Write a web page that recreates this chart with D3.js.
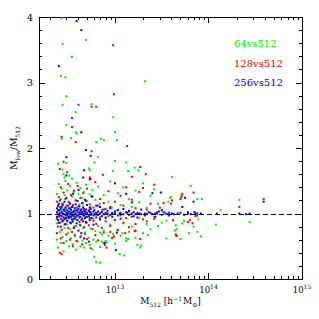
<!DOCTYPE html>
<html>
<head>
<meta charset="utf-8">
<script src="https://cdn.jsdelivr.net/npm/d3@7"></script>
<style>
  body { margin: 0; background: #fff; overflow: hidden; }
  svg { display: block; }
  .axis path, .axis line { stroke: #000; shape-rendering: crispEdges; }
  .axis text { font-family: "DejaVu Serif", serif; fill: #000; }
  .lab { font-family: "DejaVu Serif", serif; fill: #000; }
</style>
</head>
<body>
<svg id="chart" width="319" height="319"></svg>
<script>
// points are [log10 M512, Mlow/M512]
const pts64 = [
  [12.43,3.98],[12.69,3.65],[12.44,3.59],[12.54,3.39],[12.42,3.10],[12.47,3.08],[13.32,3.02],
  [12.48,2.79],[12.44,2.66],[12.75,2.67],[12.58,2.55],[12.98,2.47],[12.48,2.35],[12.58,2.24],
  [12.59,2.22],[12.43,2.14],[12.53,2.15],[12.80,2.09],[12.85,2.14],[12.88,2.12],[13.00,2.24],
  [13.02,2.12],[12.82,1.86],[12.48,1.77],[12.39,1.76],[12.78,1.78],[13.00,1.80],[13.12,1.78],
  [12.44,1.67],[12.72,1.69],[12.73,1.66],[13.21,1.70],[13.25,1.66],[12.98,1.65],[13.14,1.65],
  [12.45,1.60],[12.51,1.58],[12.46,1.55],[12.54,1.53],[13.61,1.56],[13.81,1.42],[13.71,1.28],
  [13.72,1.27],[13.88,1.22],[13.93,1.22],[13.59,1.24],[13.60,1.25],[13.57,1.18],[14.33,1.21],
  [14.13,1.05],[14.44,0.87],[14.08,0.83],[13.89,0.91],[13.84,0.80],[13.79,0.70],[13.88,0.72],
  [13.92,0.65],[13.70,0.61],[13.74,0.89],[13.72,0.85],[13.50,0.86],[13.65,0.82],[13.66,0.76],
  [13.64,0.74],[12.80,0.26],[12.78,0.34],[12.84,0.25],[13.05,0.38],[13.10,0.36],[13.27,0.48],
  [13.24,0.52],[13.35,0.67],[13.65,0.67],[12.86,0.57],[12.88,0.55],[12.91,0.56],[12.84,0.71],
  [13.12,0.62],[13.14,0.61],[13.28,0.51],[12.98,0.69],[13.08,0.70],
  [12.38,0.85],[12.38,1.30],[12.38,0.60],[12.39,1.12],[12.39,0.48],[12.40,0.95],[12.40,1.45],
  [12.41,0.72],[12.41,1.05],[12.42,1.22],[12.42,0.55],[12.43,0.88],[12.43,1.38],[12.44,0.64],
  [12.44,1.15],[12.45,1.00],[12.45,0.42],[12.46,1.28],[12.46,0.78],[12.47,0.92],[12.47,1.50],
  [12.48,0.58],[12.48,1.08],[12.49,1.35],[12.49,0.83],[12.50,0.70],[12.50,1.18],[12.51,0.96],
  [12.51,0.50],[12.52,1.42],[12.52,0.76],[12.53,1.04],[12.53,0.62],[12.54,0.87],[12.54,1.26],
  [12.55,0.53],[12.55,1.10],[12.56,1.33],[12.56,0.80],[12.57,0.68],[12.57,1.02],[12.58,1.20],
  [12.58,0.45],[12.59,0.90],[12.59,1.47],[12.60,0.57],[12.60,1.06],[12.61,1.30],[12.61,0.74],
  [12.62,0.83],[12.62,1.14],[12.63,0.50],[12.63,1.39],[12.64,1.01],[12.64,0.66],[12.65,1.24],
  [12.65,0.59],[12.66,0.78],[12.66,1.12],[12.67,0.48],[12.67,1.33],[12.68,0.95],[12.68,0.71],
  [12.69,1.44],[12.69,0.55],[12.70,0.86],[12.70,1.19],[12.72,0.63],[12.72,1.05],[12.73,1.29],
  [12.73,0.52],[12.74,0.77],[12.74,1.10],[12.76,0.45],[12.76,1.36],[12.77,0.92],[12.77,0.60],
  [12.79,1.21],[12.79,0.73],[12.80,0.57],[12.80,1.01],[12.82,0.81],[12.82,1.41],[12.84,0.49],
  [12.84,1.15],[12.86,1.06],[12.86,0.68],[12.88,0.74],[12.88,1.28],[12.90,0.58],[12.90,0.95],
  [12.93,1.18],[12.93,0.66],[12.95,0.83],[12.95,1.49],[12.97,0.62],[12.97,1.09],[13.00,0.90],
  [13.00,0.54],[13.03,1.31],[13.03,0.75],[13.06,0.66],[13.06,1.13],[13.09,0.85],[13.09,1.40],
  [13.12,0.58],[13.12,1.02],[13.15,1.22],[13.15,0.72],[13.18,0.80],[13.18,1.10],[13.22,0.63],
  [13.22,1.35],[13.26,0.93],[13.26,1.17],[13.30,0.70],[13.30,1.46],[13.34,0.84],[13.34,1.09],
  [13.38,1.27],[13.38,0.76],[13.42,0.95],[13.42,1.37],[13.46,0.81],[13.46,1.15],[13.50,1.05],
  [13.55,0.89],[13.55,0.62]
];

const pts128 = [
  [12.98,3.57],[12.99,2.82],[12.61,2.66],[12.75,2.63],[12.80,2.63],[12.54,2.46],[12.54,2.32],
  [12.43,2.17],[12.58,2.09],[13.13,2.03],[12.75,1.95],[12.45,1.79],[12.41,1.68],[12.49,1.63],
  [12.73,1.55],[12.74,1.53],[13.27,1.71],[13.33,1.60],[12.87,1.59],[13.18,1.56],[13.84,1.32],
  [13.71,1.25],[13.61,1.20],[13.60,1.15],[14.33,1.10],[14.59,1.22],[13.62,0.90],[13.80,0.90],
  [13.86,0.96],[13.88,0.97],[13.65,0.68],[13.66,0.66],[13.72,1.30],[13.70,1.22],[13.52,1.16],
  [13.78,0.87],[13.83,0.85],[12.41,0.40],[12.43,0.38],[13.27,0.61],[13.21,0.73],[13.22,0.74],
  [12.89,0.52],[12.91,0.48],[12.95,0.72],[12.99,0.65],[13.11,0.70],
  [12.38,0.92],[12.38,1.18],[12.38,0.70],[12.39,1.05],[12.39,0.80],[12.40,1.25],[12.40,0.96],
  [12.41,0.86],[12.41,1.10],[12.42,1.40],[12.42,0.62],[12.43,1.00],[12.43,0.75],[12.44,1.15],
  [12.44,0.90],[12.45,0.55],[12.45,1.32],[12.46,1.06],[12.46,0.83],[12.47,0.94],[12.47,1.22],
  [12.48,0.68],[12.48,1.12],[12.49,1.02],[12.49,0.88],[12.50,1.45],[12.50,0.78],[12.51,0.95],
  [12.51,1.17],[12.52,0.60],[12.52,1.08],[12.53,1.28],[12.53,0.85],[12.54,0.99],[12.54,0.72],
  [12.55,1.13],[12.55,0.50],[12.56,0.92],[12.56,1.35],[12.57,1.04],[12.57,0.66],[12.58,0.81],
  [12.58,1.20],[12.59,1.09],[12.59,0.58],[12.60,0.96],[12.60,1.42],[12.61,0.74],[12.61,1.11],
  [12.62,1.01],[12.62,0.87],[12.63,1.24],[12.63,0.64],[12.64,0.90],[12.64,1.06],[12.65,0.53],
  [12.65,1.16],[12.66,1.31],[12.66,0.97],[12.67,0.79],[12.67,1.07],[12.68,1.00],[12.68,0.69],
  [12.69,1.19],[12.69,0.86],[12.70,0.61],[12.70,1.38],[12.72,1.05],[12.72,0.82],[12.73,0.93],
  [12.73,1.14],[12.74,0.47],[12.74,1.02],[12.76,1.26],[12.76,0.76],[12.77,0.89],[12.77,1.09],
  [12.79,1.48],[12.79,0.67],[12.80,0.98],[12.80,0.84],[12.82,1.12],[12.82,0.59],[12.84,0.94],
  [12.84,1.22],[12.86,1.03],[12.86,0.78],[12.88,0.71],[12.88,1.16],[12.90,1.07],[12.90,0.88],
  [12.93,1.34],[12.93,0.96],[12.95,0.81],[12.95,1.10],[12.97,1.00],[12.97,0.63],[13.00,1.18],
  [13.00,0.90],[13.03,0.75],[13.03,1.05],[13.06,1.27],[13.06,0.97],[13.09,0.86],[13.09,1.12],
  [13.12,1.40],[13.12,0.93],[13.15,1.03],[13.15,0.79],[13.18,0.95],[13.18,1.21],[13.22,1.08],
  [13.22,0.84],[13.26,1.33],[13.26,0.99],[13.30,1.39],[13.30,0.91],[13.34,1.06],[13.34,0.88],
  [13.38,1.15],[13.42,0.92],[13.42,1.44],[13.45,1.02],[13.48,1.09]
];

const pts256 = [
  [12.59,3.94],[12.64,3.80],[12.40,3.25],[12.64,2.24],[12.69,1.97],[12.48,1.86],[12.74,1.88],
  [12.48,1.58],[12.67,1.66],[12.66,1.55],[12.73,1.52],[13.49,1.32],[13.84,1.18],[13.72,1.10],
  [13.75,1.24],[14.59,1.18],[14.09,1.00],[14.33,1.00],[14.40,0.99],[14.44,1.00],[13.85,1.02],
  [13.86,1.00],[13.92,1.00],[12.89,0.55],[13.02,0.71],[13.01,0.44],
  [12.38,1.02],[12.38,0.95],[12.38,1.08],[12.39,0.90],[12.39,1.12],[12.39,0.99],[12.40,1.05],
  [12.40,0.86],[12.40,1.15],[12.41,0.97],[12.41,1.01],[12.41,1.20],[12.42,0.92],[12.42,1.07],
  [12.42,0.80],[12.43,1.03],[12.43,0.96],[12.43,1.10],[12.44,0.88],[12.44,1.00],[12.44,1.13],
  [12.45,0.94],[12.45,1.06],[12.45,0.99],[12.46,1.04],[12.46,0.91],[12.46,1.18],[12.47,0.98],
  [12.47,1.09],[12.47,0.84],[12.48,1.01],[12.48,0.93],[12.48,1.24],[12.49,1.05],[12.49,0.97],
  [12.49,0.89],[12.50,1.00],[12.50,1.12],[12.50,0.95],[12.51,0.93],[12.51,1.03],[12.51,1.08],
  [12.52,0.99],[12.52,0.86],[12.52,1.15],[12.53,1.06],[12.53,0.95],[12.53,1.01],[12.54,0.91],
  [12.54,1.10],[12.54,0.97],[12.55,1.02],[12.55,0.88],[12.55,1.30],[12.56,0.96],[12.56,1.04],
  [12.56,0.78],[12.57,1.08],[12.57,0.99],[12.57,0.92],[12.58,1.00],[12.58,1.14],[12.58,0.94],
  [12.59,0.97],[12.59,1.05],[12.59,0.85],[12.60,1.03],[12.60,0.90],[12.60,1.19],[12.61,0.98],
  [12.61,1.07],[12.61,1.36],[12.62,1.01],[12.62,0.94],[12.62,1.11],[12.63,0.95],[12.63,1.04],
  [12.63,0.82],[12.64,1.06],[12.64,0.99],[12.64,0.70],[12.65,0.92],[12.65,1.02],[12.65,1.16],
  [12.66,1.00],[12.66,1.09],[12.66,0.88],[12.67,0.97],[12.67,1.04],[12.67,0.62],[12.68,1.03],
  [12.68,0.93],[12.68,1.21],[12.69,0.99],[12.69,1.06],[12.69,0.87],[12.70,1.01],[12.70,0.95],
  [12.70,1.13],[12.72,0.96],[12.72,1.04],[12.72,0.57],[12.73,1.02],[12.73,0.90],[12.73,1.09],
  [12.74,0.98],[12.74,1.07],[12.75,1.00],[12.75,0.93],[12.75,1.26],[12.77,1.03],[12.77,0.97],
  [12.77,0.83],[12.78,0.99],[12.78,1.05],[12.80,1.01],[12.80,0.94],[12.80,1.12],[12.82,0.98],
  [12.82,1.03],[12.84,1.00],[12.84,0.91],[12.84,1.10],[12.86,1.02],[12.86,0.96],[12.88,0.99],
  [12.88,1.06],[12.90,1.01],[12.90,0.93],[12.92,1.00],[12.92,1.04],[12.95,0.98],[12.95,1.08],
  [12.97,1.01],[12.97,0.95],[13.00,1.00],[13.00,1.03],[13.00,1.46],[13.03,0.97],[13.03,1.05],
  [13.06,1.01],[13.06,0.92],[13.09,0.99],[13.09,1.07],[13.12,1.02],[13.12,1.30],[13.15,0.98],
  [13.15,1.04],[13.18,1.00],[13.18,1.17],[13.20,0.96],[13.20,1.02],[13.24,1.01],[13.24,0.94],
  [13.28,0.99],[13.28,1.06],[13.32,1.00],[13.32,0.97],[13.36,1.02],[13.40,0.99],[13.40,1.31],
  [13.43,1.00],[13.43,0.95],[13.47,1.03],[13.50,0.98],[13.50,1.05],[13.54,1.00],[13.58,1.01],
  [13.58,0.97],[13.63,0.99],[13.67,1.00],[13.78,1.00],[13.78,1.02],[13.81,0.99],
  [13.05,1.00],[13.13,1.01],[13.22,0.99],[13.26,1.00],[13.34,0.99],[13.38,1.01],[13.45,1.00],
  [13.52,1.02],[13.56,0.99],[13.61,1.00],[13.70,1.01],[13.74,0.98],[13.88,1.00]
];

const seriesNames = ["64vs512", "128vs512", "256vs512"];
const seriesColors = ["#00f000", "#ff0000", "#0000ff"];
const seriesData = [pts64, pts128, pts256];

const xMajor = [1e13, 1e14, 1e15];
const yMajor = [0, 1, 2, 3, 4];

const svg = d3.select("#chart");
const margin = { top: 17, right: 17, bottom: 40, left: 39 };
const width = +svg.attr("width");
const height = +svg.attr("height");
const innerWidth = width - margin.left - margin.right;
const innerHeight = height - margin.top - margin.bottom;

const g = svg.append("g")
  .attr("transform", `translate(${margin.left}, ${margin.top})`);

const x = d3.scaleLog()
  .domain([1.54e12, 1e15])
  .range([0, innerWidth]);

const y = d3.scaleLinear()
  .domain([0, 4])
  .range([innerHeight, 0]);

// minor tick values
const xMinor = [];
[1e12, 1e13, 1e14].forEach(base => {
  for (let k = 2; k <= 9; k++) {
    const v = k * base;
    if (v >= x.domain()[0] && v <= x.domain()[1]) xMinor.push(v);
  }
});
const yMinor = d3.range(0, 4.001, 0.2).map(v => +v.toFixed(1));

// ticks only, no labels
function bare(axisGen, size, values, transform) {
  const a = g.append("g").attr("class", "axis")
    .call(axisGen.tickValues(values).tickSize(size).tickSizeOuter(0));
  if (transform) a.attr("transform", transform);
  a.selectAll(".tick text").remove();
  return a;
}

// measure a run of [text, size, dy, gap] pieces
const probe = svg.append("text").attr("class", "lab");
function runWidth(pieces) {
  let w = 0;
  pieces.forEach(([t, size, dy, gap]) => {
    probe.style("font-size", size + "px").text(t);
    w += probe.node().getComputedTextLength() + (gap || 0);
  });
  return w;
}

// horizontal label, each piece its own text at an absolute spot
function hLabel(pieces, cx, baseY) {
  let px = cx - runWidth(pieces) / 2;
  pieces.forEach(([t, size, dy, gap]) => {
    probe.style("font-size", size + "px").text(t);
    const w = probe.node().getComputedTextLength();
    svg.append("text")
      .attr("class", "lab")
      .attr("x", px)
      .attr("y", baseY + dy)
      .style("font-size", size + "px")
      .text(t);
    px += w + (gap || 0);
  });
}

// vertical label reading bottom to top
function vLabel(pieces, baseX, cy) {
  let py = cy + runWidth(pieces) / 2;
  pieces.forEach(([t, size, dy, gap]) => {
    probe.style("font-size", size + "px").text(t);
    const w = probe.node().getComputedTextLength();
    const bx = baseX + dy;
    svg.append("text")
      .attr("class", "lab")
      .attr("x", bx)
      .attr("y", py)
      .attr("transform", `rotate(-90, ${bx}, ${py})`)
      .style("font-size", size + "px")
      .text(t);
    py -= w + (gap || 0);
  });
}

bare(d3.axisBottom(x), -3, xMinor, `translate(0, ${innerHeight})`);
bare(d3.axisBottom(x), -6, xMajor, `translate(0, ${innerHeight})`);
xMajor.forEach(v => {
  hLabel([["10", 8.5, 0], [String(Math.round(Math.log10(v))), 6, -4]],
    margin.left + x(v), margin.top + innerHeight + 14);
});

bare(d3.axisTop(x), -3, xMinor);
bare(d3.axisTop(x), -6, xMajor);

bare(d3.axisLeft(y), -3, yMinor);
g.append("g").attr("class", "axis")
  .call(d3.axisLeft(y).tickValues(yMajor).tickSize(-6).tickSizeOuter(0)
    .tickPadding(6).tickFormat(d3.format("d")))
  .selectAll(".tick text").style("font-size", "10px");

bare(d3.axisRight(y), -3, yMinor, `translate(${innerWidth}, 0)`);
bare(d3.axisRight(y), -6, yMajor, `translate(${innerWidth}, 0)`);

// points
seriesData.forEach((pts, i) => {
  g.append("g")
    .attr("fill", seriesColors[i])
    .selectAll("rect")
    .data(pts)
    .join("rect")
    .attr("x", d => x(Math.pow(10, d[0])) - 1)
    .attr("y", d => y(d[1]) - 1)
    .attr("width", 2)
    .attr("height", 2);
});

// reference line at 1
g.append("line")
  .attr("x1", 0)
  .attr("x2", innerWidth)
  .attr("y1", Math.round(y(1)) + 0.5)
  .attr("y2", Math.round(y(1)) + 0.5)
  .attr("stroke", "#000")
  .attr("stroke-dasharray", "5,3");

// legend
seriesNames.forEach((name, i) => {
  svg.append("text")
    .attr("x", 234)
    .attr("y", 47 + i * 19.5)
    .attr("fill", seriesColors[i])
    .style("font-family", "DejaVu Serif, serif")
    .style("font-size", "10px")
    .text(name);
});

// axis labels
hLabel([
  ["M", 9, 0], ["512", 6, 2.5, 3], ["[h", 9, 0], ["\u22121", 6, -3.5, 1],
  ["M", 9, 0], ["\u2299", 6, 2.5], ["]", 9, 0]
], margin.left + innerWidth / 2, 304);

vLabel([
  ["M", 9, 0], ["low", 6, 2.5], ["/M", 9, 0], ["512", 6, 2.5]
], 17, margin.top + innerHeight / 2);

probe.remove();
</script>
</body>
</html>
